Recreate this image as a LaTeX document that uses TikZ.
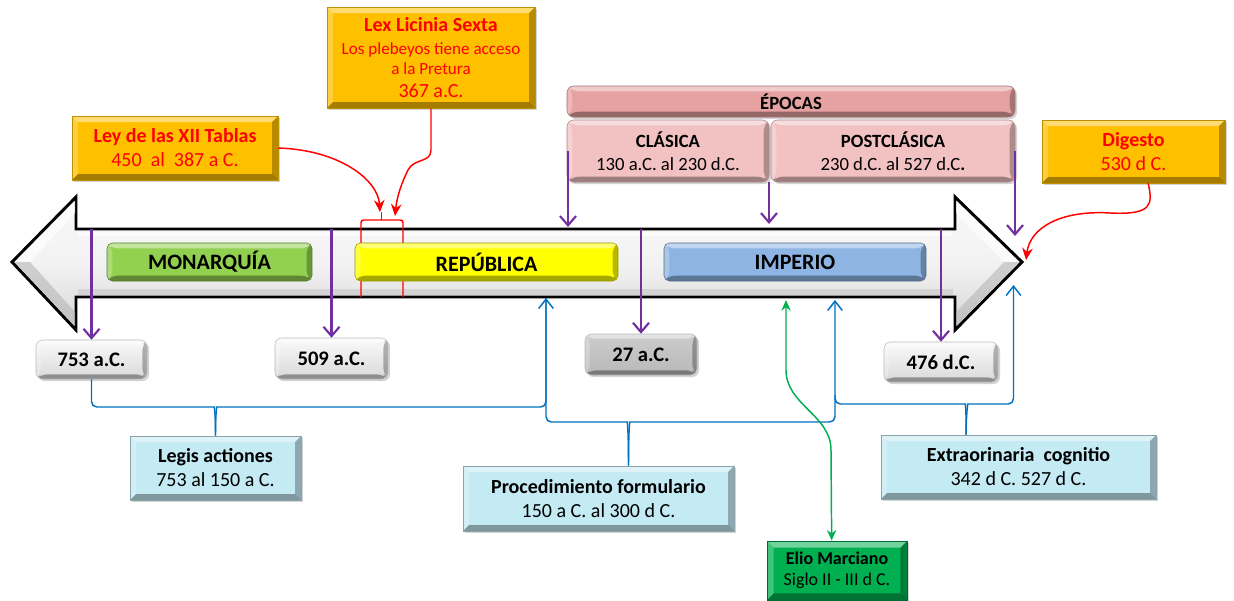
\documentclass[tikz,border=0pt]{standalone}
\usepackage{fontspec}
\setmainfont{Carlito}
\usetikzlibrary{arrows.meta,shadows}
\definecolor{gold}{HTML}{FFC000}
\definecolor{redt}{HTML}{FF0000}
\definecolor{purp}{HTML}{7030A0}
\definecolor{bluc}{HTML}{0070C0}
\definecolor{grnc}{HTML}{00B050}
\definecolor{monc}{HTML}{92D050}
\definecolor{repc}{HTML}{FFFF00}
\definecolor{impc}{HTML}{8DB4E2}
\definecolor{epc}{HTML}{E6A1A1}
\definecolor{clc}{HTML}{F2C2C2}
\definecolor{lbc}{HTML}{C4EAF4}
\newcommand\mybox[7]{\node[#6, minimum width={(#4-#2)*0.75pt}, minimum height={(#5-#3)*0.75pt}] (#1) at ({(#2+#4)/2},{(#3+#5)/2}) {#7};}
\tikzset{
 bevel/.style={path picture={
  \coordinate (pNW) at (path picture bounding box.north west);
  \coordinate (pNE) at (path picture bounding box.north east);
  \coordinate (pSW) at (path picture bounding box.south west);
  \coordinate (pSE) at (path picture bounding box.south east);
  \fill[white,opacity=.45] (pNW) -- (pNE) -- ([shift={(-#1,-#1)}]pNE) -- ([shift={(#1,-#1)}]pNW) -- cycle;
  \fill[white,opacity=.25] (pNW) -- (pSW) -- ([shift={(#1,#1)}]pSW) -- ([shift={(#1,-#1)}]pNW) -- cycle;
  \fill[black,opacity=.35] (pSW) -- (pSE) -- ([shift={(-#1,#1)}]pSE) -- ([shift={(#1,#1)}]pSW) -- cycle;
  \fill[black,opacity=.28] (pNE) -- (pSE) -- ([shift={(-#1,#1)}]pSE) -- ([shift={(-#1,-#1)}]pNE) -- cycle;
 }},
 bevel/.default=4pt,
 basebox/.style={align=center, inner sep=0pt, drop shadow={shadow xshift=1.5pt,shadow yshift=-1.5pt,opacity=.35}},
 goldbox/.style={basebox, fill=gold, draw=gold!75!black, line width=.4pt, bevel=4.5pt, text=redt, font=\fontsize{15}{18}\selectfont},
 datebox/.style={basebox, rounded corners=5pt, top color=gray!4, bottom color=gray!30, draw=gray!55, line width=.4pt, bevel=3.5pt, font=\bfseries\fontsize{15.5}{18}\selectfont},
 darkdate/.style={datebox, top color=gray!40, bottom color=gray!55},
 bluebox/.style={basebox, fill=lbc, draw=lbc!70!black, line width=.4pt, bevel=4.5pt, font=\fontsize{15}{18}\selectfont},
 epbox/.style={basebox, rounded corners=5pt, fill=#1, draw=#1!70!black, line width=.4pt, bevel=4pt, font=\fontsize{14}{17}\selectfont},
 barbox/.style={rounded corners=4pt, fill=#1, draw=#1!60!black, line width=.4pt, bevel=4pt, inner sep=0pt, font=\bfseries\fontsize{16.5}{20}\selectfont},
 purarrow/.style={draw=purp, line width=1.6pt, -{Straight Barb[length=7pt,width=12pt]}},
 bluline/.style={draw=bluc, line width=1.1pt},
 bluarrow/.style={bluline, -{Straight Barb[length=7pt,width=11pt]}},
 redarr/.style={draw=redt, line width=1.1pt, -{Stealth[length=9pt,width=8pt]}},
 grnarr/.style={draw=grnc, line width=1.1pt, {Stealth[length=8pt,width=7pt]}-{Stealth[length=8pt,width=7pt]}},
}
\begin{document}
\begin{tikzpicture}[x=0.75pt,y=-0.75pt]
\useasboundingbox (0,0) rectangle (1234,600);
% big double arrow
\path[draw=black, line width=2.2pt, line join=miter, top color=gray!5, bottom color=gray!32, middle color=gray!10]
 (12,262) -- (76,197) -- (76,229) -- (955,229) -- (955,197) -- (1022,262) -- (955,330) -- (955,297) -- (76,297) -- (76,330) -- cycle;
\fill[white,opacity=.75] (15,262) -- (75,201) -- (75,213) -- (30,262) -- cycle;
\fill[gray!60,opacity=.55] (15,262) -- (75,326) -- (75,312) -- (30,262) -- cycle;
\fill[white,opacity=.65] (1019,262) -- (956,201) -- (956,213) -- (1004,262) -- cycle;
\fill[gray!60,opacity=.55] (1019,262) -- (956,326) -- (956,312) -- (1004,262) -- cycle;
\fill[white,opacity=.6] (78,232) rectangle (953,236);
\fill[gray!50,opacity=.45] (78,289) rectangle (953,295);
% red bracket
\draw[redt, line width=1.1pt, rounded corners=2pt] (361,297) -- (361,220) -- (403,220) -- (403,297);
\draw[redt, line width=1.1pt] (381.5,220) -- (381.5,212);
\coordinate (r1) at (380,212);
\coordinate (r2) at (395,216);
% bars
\mybox{monarquia}{107}{243}{312}{281}{barbox=monc}{MONARQUÍA}
\mybox{republica}{355}{243}{618}{281}{barbox=repc}{REPÚBLICA}
\mybox{imperio}{664}{243}{926}{281}{barbox=impc}{IMPERIO}
% top boxes
\mybox{lex}{327}{7}{535}{108}{goldbox}{\textbf{Lex Licinia Sexta}\\[-1pt]{\fontsize{12.8}{15}\selectfont Los plebeyos tiene acceso}\\[-2.5pt]{\fontsize{12.8}{15}\selectfont a la Pretura}\\[-1pt] 367 a.C.}
\mybox{ley}{72}{116}{278}{180}{goldbox}{\textbf{Ley de las XII Tablas}\\450\ \ al\ \ 387 a C.}
\mybox{digesto}{1042}{120}{1225}{183}{goldbox}{\textbf{Digesto}\\530 d C.}
\mybox{epocas}{567}{86}{1015}{117}{epbox=epc}{\textbf{ÉPOCAS}}
\mybox{clasica}{567}{120}{769}{182}{epbox=clc}{\textbf{CLÁSICA}\\130 a.C. al 230 d.C.}
\mybox{postclasica}{771}{120}{1015}{182}{epbox=clc}{\textbf{POSTCLÁSICA}\\230 d.C. al 527 d.C\textbf{.}}
% date boxes
\mybox{d753}{36}{340}{147}{379}{datebox}{753\ a.C.}
\mybox{d509}{275}{338}{388}{379}{datebox}{509\ a.C.}
\mybox{d27}{585}{334}{697}{375}{darkdate}{27\ a.C.}
\mybox{d476}{884}{342}{998}{382}{datebox}{476\ d.C.}
% lower boxes
\mybox{legis}{130}{436}{301}{500}{bluebox}{\textbf{Legis actiones}\\753 al 150 a C.}
\mybox{proc}{463}{466}{734}{531}{bluebox}{\textbf{Procedimiento formulario}\\150 a C. al 300 d C.}
\mybox{extra}{881}{435}{1156}{499}{bluebox}{\textbf{Extraorinaria\ \ cognitio}\\342 d C. 527 d C.}
\mybox{elio}{767}{541}{907}{600}{basebox, fill=grnc, draw=grnc!60!black, line width=.6pt, bevel=5pt, font=\fontsize{13.5}{16}\selectfont}{\textbf{Elio Marciano}\\Siglo II - III d C.}
% purple arrows to dates
\coordinate (t1) at (91.5,229);
\coordinate (t2) at (331.5,229);
\coordinate (t3) at (641,229);
\coordinate (t4) at (941,229);
\draw[purarrow] (t1) -- (d753.north);
\draw[purarrow] (t2) -- (d509.north);
\draw[purarrow] (t3) -- (d27.north);
\draw[purarrow] (t4) -- (d476.north);
% purple arrows from epocas
\coordinate (e1) at (568,227);
\coordinate (e2) at (769,224);
\coordinate (e3) at (1015,236);
\draw[purarrow] (e1 |- clasica.west) -- (e1);
\draw[purarrow] (e2 |- clasica.south) -- (e2);
\draw[purarrow] (e3 |- postclasica.east) -- (e3);
% red arrows
\draw[redarr] (ley.east) .. controls (340,150) and (378,180) .. (r1);
\draw[redarr] (lex.south) -- (431,150) .. controls (431,163) and (414,158) .. (408,170) .. controls (402,182) and (397,196) .. (r2);
\coordinate (r3) at (1026,260);
\draw[redarr] ([xshift=11pt]digesto.south) .. controls (1153,205) and (1152,215) .. (1110,213) .. controls (1060,210) and (1030,228) .. (r3);
% blue brackets
\coordinate (a1) at (546,298);
\coordinate (a2) at (835,300);
\coordinate (a3) at (1013.5,285);
\coordinate (j2) at (835,395);
\draw[bluline, rounded corners=4pt] (d753.south) -- (91.5,407) -- (209,407) .. controls (214,407) and (215.5,410) .. (legis.north);
\draw[bluarrow, rounded corners=4pt] (legis.north) .. controls (215.5,410) and (217,407) .. (222,407) -- (546,407) -- (a1);
\draw[bluline, rounded corners=4pt] (a1) -- (546,422) -- (622,422) .. controls (627,422) and (628.5,425) .. ([xshift=22.5pt]proc.north);
\draw[bluarrow, rounded corners=4pt] ([xshift=22.5pt]proc.north) .. controls (628.5,425) and (630,422) .. (635,422) -- (835,422) -- (a2);
\draw[bluline, rounded corners=4pt] (j2) -- (835,404) -- (960,404) .. controls (965,404) and (966.5,407) .. ([xshift=-39.4pt]extra.north);
\draw[bluarrow, rounded corners=4pt] ([xshift=-39.4pt]extra.north) .. controls (966.5,407) and (968,404) .. (973,404) -- (1013.5,404) -- (a3);
% green
\coordinate (g1) at (786,300);
\draw[grnarr] ([xshift=-4pt]elio.north) -- (831,450) .. controls (831,415) and (786,405) .. (786,370) -- (g1);
\end{tikzpicture}
\end{document}
